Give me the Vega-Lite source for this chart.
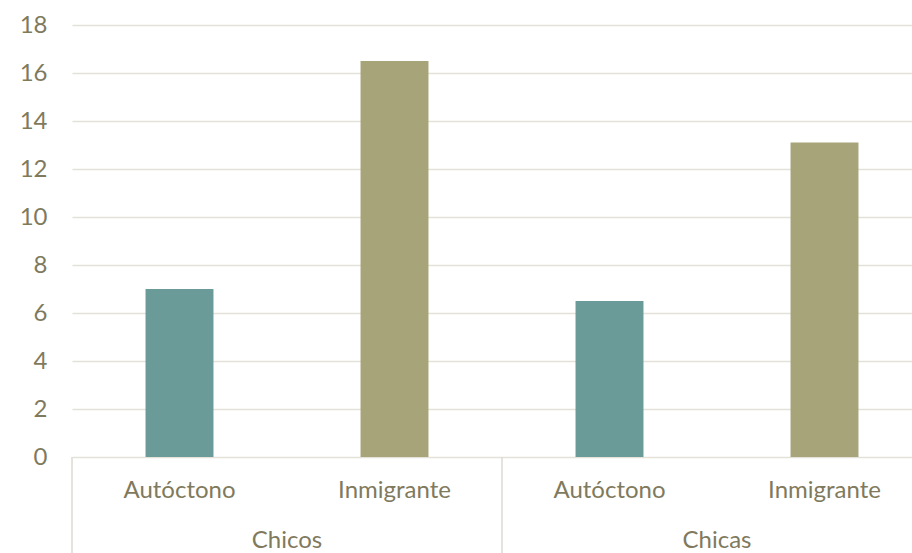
{
  "$schema": "https://vega.github.io/schema/vega-lite/v6.json",
  "autosize": "none",
  "padding": {"left": 72, "top": 25, "right": 0, "bottom": 96},
  "width": 840,
  "height": 432,
  "background": "white",
  "config": {
    "view": {"stroke": null},
    "font": "Lato",
    "axis": {"labelFont": "Lato", "labelColor": "#7f7a5d"}
  },
  "datasets": {
    "bars": [
      {"grupo": "Chicos", "origen": "Autóctono", "valor": 7.0},
      {"grupo": "Chicos", "origen": "Inmigrante", "valor": 16.5},
      {"grupo": "Chicas", "origen": "Autóctono", "valor": 6.5},
      {"grupo": "Chicas", "origen": "Inmigrante", "valor": 13.1}
    ],
    "grupos": [
      {"grupo": "Chicos"},
      {"grupo": "Chicas"}
    ]
  },
  "layer": [
    {
      "data": {"name": "bars"},
      "mark": {"type": "bar"},
      "encoding": {
        "x": {"field": "grupo", "type": "nominal", "sort": ["Chicos", "Chicas"],
              "scale": {"range": [0, 860], "paddingInner": 0, "paddingOuter": 0}, "axis": null},
        "xOffset": {"field": "origen", "type": "nominal", "sort": ["Autóctono", "Inmigrante"],
                    "scale": {"paddingInner": 0.684, "paddingOuter": 0.342}},
        "y": {"field": "valor", "type": "quantitative",
              "scale": {"domain": [0, 18], "nice": false, "zero": true},
              "axis": {"values": [0, 2, 4, 6, 8, 10, 12, 14, 16, 18], "title": null, "domain": false, "ticks": false,
                       "labelFontSize": 24, "labelPadding": 25, "gridColor": "#e4e1d9", "gridWidth": 1.5, "gridOpacity": 1}},
        "color": {"field": "origen", "type": "nominal",
                  "scale": {"domain": ["Autóctono", "Inmigrante"], "range": ["#6a9b98", "#a7a47a"]}, "legend": null}
      }
    },
    {
      "data": {"name": "bars"},
      "mark": {"type": "text", "fontSize": 24, "color": "#7f7a5d", "baseline": "middle", "align": "center"},
      "encoding": {
        "x": {"field": "grupo", "type": "nominal", "sort": ["Chicos", "Chicas"]},
        "xOffset": {"field": "origen", "type": "nominal", "sort": ["Autóctono", "Inmigrante"]},
        "y": {"datum": -1.42},
        "text": {"field": "origen"}
      }
    },
    {
      "data": {"name": "grupos"},
      "mark": {"type": "text", "fontSize": 24, "color": "#7f7a5d", "baseline": "middle", "align": "center"},
      "encoding": {
        "x": {"field": "grupo", "type": "nominal", "sort": ["Chicos", "Chicas"]},
        "y": {"datum": -3.5},
        "text": {"field": "grupo"}
      }
    },
    {
      "data": {"name": "grupos"},
      "mark": {"type": "rule", "color": "#dedad2", "strokeWidth": 1.5},
      "encoding": {
        "x": {"field": "grupo", "type": "nominal", "sort": ["Chicos", "Chicas"], "bandPosition": 0},
        "y": {"datum": 0},
        "y2": {"datum": -4.2}
      }
    }
  ]
}
